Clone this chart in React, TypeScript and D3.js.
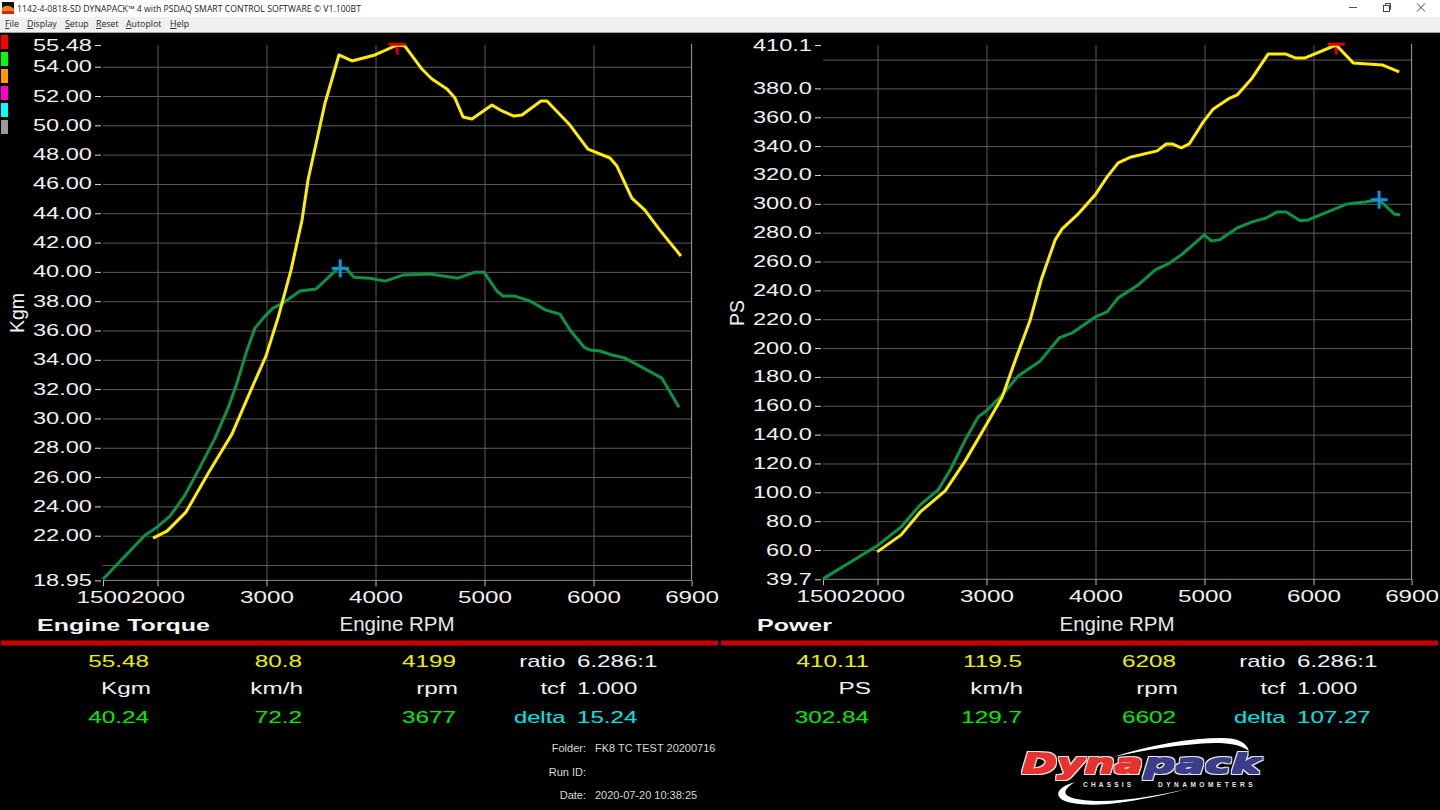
import React, { useEffect, useRef } from 'react';
import * as d3 from 'd3';

const FONT = '"Liberation Sans", Arial, sans-serif';
const UI_FONT = '"Open Sans", "Noto Sans", sans-serif';

// Engine torque (Kgm)
const torqueYellowRpm = [1959, 2087, 2261, 2472, 2683, 2849, 2995, 3105, 3225, 3326, 3381, 3537, 3665, 3784, 3995, 4199, 4270, 4426, 4518, 4656, 4729, 4803, 4885, 5068, 5160, 5270, 5344, 5518, 5573, 5784, 5949, 6151, 6215, 6352, 6471, 6609, 6683, 6802];
const torqueYellow = [21.83, 22.31, 23.61, 26.34, 28.93, 31.8, 34.25, 36.85, 40.12, 43.54, 46.27, 51.52, 54.8, 54.39, 54.8, 55.48, 55.41, 53.84, 53.16, 52.48, 51.86, 50.57, 50.43, 51.39, 50.98, 50.63, 50.7, 51.66, 51.66, 50.02, 48.38, 47.77, 47.22, 45.03, 44.22, 42.85, 42.17, 41.08];
const torqueGreenRpm = [1500, 1885, 1995, 2115, 2252, 2390, 2528, 2647, 2729, 2821, 2894, 2986, 3060, 3151, 3307, 3454, 3656, 3729, 3803, 3949, 4087, 4252, 4500, 4757, 4912, 4995, 5114, 5169, 5279, 5417, 5564, 5692, 5784, 5912, 5967, 6059, 6169, 6288, 6426, 6628, 6784];
const torqueGreen = [19.03, 22.03, 22.58, 23.33, 24.77, 26.68, 28.66, 30.7, 32.41, 34.66, 36.16, 36.98, 37.53, 37.87, 38.69, 38.83, 40.24, 40.24, 39.64, 39.57, 39.37, 39.78, 39.85, 39.57, 39.98, 39.98, 38.69, 38.35, 38.35, 38.01, 37.39, 37.12, 36.03, 34.87, 34.67, 34.6, 34.33, 34.12, 33.57, 32.75, 30.77];

// Power (PS)
const powerYellowRpm = [1997, 2217, 2392, 2621, 2805, 2997, 3144, 3272, 3401, 3502, 3630, 3694, 3832, 3997, 4107, 4208, 4327, 4566, 4649, 4704, 4787, 4860, 4989, 5081, 5218, 5300, 5438, 5585, 5741, 5832, 5924, 6208, 6364, 6630, 6786];
const powerYellow = [58.7, 70.5, 86.4, 101, 121.8, 146.7, 166.1, 193.2, 219.5, 247.3, 275, 282.6, 292.3, 306.2, 318.7, 328.4, 332.5, 336.7, 341.5, 341.5, 338.8, 341.5, 356.8, 365.8, 372.7, 375.5, 387.3, 403.9, 403.9, 401.1, 401.1, 410.1, 397.7, 396.3, 391.4];
const powerGreenRpm = [1500, 1997, 2217, 2392, 2557, 2667, 2805, 2924, 2997, 3144, 3291, 3493, 3667, 3786, 3997, 4107, 4208, 4392, 4548, 4667, 4787, 4915, 4998, 5062, 5135, 5300, 5438, 5566, 5667, 5750, 5878, 5951, 6153, 6309, 6474, 6602, 6740, 6795];
const powerGreen = [40, 62.9, 76, 91.3, 101.7, 115.5, 136.3, 152.3, 156.4, 167.5, 180.7, 191.1, 207, 210.5, 221.6, 225.1, 234.8, 243.8, 254.2, 258.3, 264.6, 272.9, 278.4, 274.3, 275, 283.3, 287.5, 290.2, 294.4, 294.4, 288.2, 288.8, 295.1, 299.9, 301.3, 302.84, 293, 292.3];

const rpmTicks = [1500, 2000, 3000, 4000, 5000, 6000, 6900];
const rpmGrid = [2000, 3000, 4000, 5000, 6000];
const torqueTicks = [18.95, 22, 24, 26, 28, 30, 32, 34, 36, 38, 40, 42, 44, 46, 48, 50, 52, 54, 55.48];
const torqueGrid = [20, 22, 24, 26, 28, 30, 32, 34, 36, 38, 40, 42, 44, 46, 48, 50, 52, 54];
const powerTicks = [39.7, 60, 80, 100, 120, 140, 160, 180, 200, 220, 240, 260, 280, 300, 320, 340, 360, 380, 410.1];
const powerGrid = [60, 80, 100, 120, 140, 160, 180, 200, 220, 240, 260, 280, 300, 320, 340, 360, 380, 400];

const swatches = ['#ff0000', '#00ff00', '#ff9900', '#ff00cc', '#00ffff', '#999999'];
const menuItems = ['File', 'Display', 'Setup', 'Reset', 'Autoplot', 'Help'];
const menuX = [5, 27, 65, 96, 126, 170];

const torqueReadout = [['55.48', '80.8', '4199'], ['Kgm', 'km/h', 'rpm'], ['40.24', '72.2', '3677']];
const powerReadout = [['410.11', '119.5', '6208'], ['PS', 'km/h', 'rpm'], ['302.84', '129.7', '6602']];
const torqueSide = ['6.286:1', '1.000', '15.24'];
const powerSide = ['6.286:1', '1.000', '107.27'];

type PanelProps = {
  left: number;
  yLow: number;
  yHigh: number;
  yBottom: number;
  yTicks: number[];
  yGrid: number[];
  decimals: number;
  unit: string;
  unitX: number;
  unitY: number;
  yRpm: number[];
  yVals: number[];
  gRpm: number[];
  gVals: number[];
  peak: [number, number];
  peak2: [number, number];
};

const Panel = ({ left, yLow, yHigh, yBottom, yTicks, yGrid, decimals, unit, unitX, unitY, yRpm, yVals, gRpm, gVals, peak, peak2 }: PanelProps) => {
  const ref = useRef<SVGGElement>(null);

  useEffect(() => {
    const g = d3.select(ref.current);
    g.selectAll('*').remove();

    const x = d3.scaleLinear().domain([1500, 6900]).range([left, left + 588.6]);
    const y = d3.scaleLinear().domain([yLow, yHigh]).range([yBottom, 45]);
    const bottom = y(yLow);

    // grid
    g.append('g')
      .attr('transform', `translate(${left},0)`)
      .call(d3.axisLeft(y).tickValues(yGrid).tickSize(-588.6).tickFormat(() => ''))
      .call((a) => a.select('.domain').remove())
      .call((a) => a.selectAll('.tick line').attr('stroke', '#5c5c5c'));

    g.append('g')
      .attr('transform', `translate(0,${bottom})`)
      .call(d3.axisTop(x).tickValues(rpmGrid).tickSize(bottom - 45).tickFormat(() => ''))
      .call((a) => a.select('.domain').remove())
      .call((a) => a.selectAll('.tick line').attr('stroke', '#5c5c5c'));

    // plot frame, bottom and right edge are brighter
    g.append('line').attr('x1', left).attr('x2', x(6900)).attr('y1', bottom).attr('y2', bottom).attr('stroke', '#8a8a8a');
    g.append('line').attr('x1', x(6900)).attr('x2', x(6900)).attr('y1', 44).attr('y2', bottom).attr('stroke', '#a0a0a0');

    // y axis
    g.append('g')
      .attr('transform', `translate(${left - 2},0)`)
      .call(d3.axisLeft(y).tickValues(yTicks).tickSize(6).tickFormat((d) => (d as number).toFixed(decimals)))
      .call((a) => a.select('.domain').remove())
      .call((a) => a.selectAll('.tick line').attr('stroke', '#dddddd'))
      .call((a) =>
        a
          .selectAll('.tick text')
          .attr('x', 0)
          .attr('dy', 0)
          .attr('transform', 'translate(-9,5) scale(1.43,1)')
          .attr('fill', '#f0f0f0')
          .attr('font-family', FONT)
          .attr('font-size', 16.5)
      );

    // x axis
    g.append('g')
      .attr('transform', `translate(0,${bottom})`)
      .call(d3.axisBottom(x).tickValues(rpmTicks).tickSize(6).tickFormat(d3.format('d')))
      .call((a) => a.select('.domain').remove())
      .call((a) => a.selectAll('.tick line').attr('stroke', '#bbbbbb'))
      .call((a) =>
        a
          .selectAll('.tick text')
          .attr('y', 0)
          .attr('dy', 0)
          .attr('transform', 'translate(0,23) scale(1.47,1)')
          .attr('fill', '#f0f0f0')
          .attr('font-family', FONT)
          .attr('font-size', 16.5)
      );

    const draw = (rpm: number[], vals: number[], color: string) => {
      const path = d3
        .line<number>()
        .x((r) => x(r))
        .y((_, i) => y(vals[i]));
      g.append('path')
        .attr('d', path(rpm))
        .attr('fill', 'none')
        .attr('stroke', color)
        .attr('stroke-width', 3)
        .attr('stroke-linejoin', 'round');
    };

    // red peak marker, cut off at the plot top: stem under the trace, bar over it
    const px = x(peak[0]);
    const py = y(peak[1]);
    g.append('line').attr('x1', px).attr('x2', px).attr('y1', py).attr('y2', py + 9.5).attr('stroke', '#e00000').attr('stroke-width', 3);

    draw(gRpm, gVals, '#0a9444');
    draw(yRpm, yVals, '#ffee00');

    g.append('line').attr('x1', px - 8.5).attr('x2', px + 8.5).attr('y1', py - 0.8).attr('y2', py - 0.8).attr('stroke', '#e00000').attr('stroke-width', 3);

    // blue marker
    const bx = x(peak2[0]);
    const by = y(peak2[1]);
    g.append('line').attr('x1', bx - 8.5).attr('x2', bx + 8.5).attr('y1', by).attr('y2', by).attr('stroke', '#0a96dc').attr('stroke-width', 3);
    g.append('line').attr('x1', bx).attr('x2', bx).attr('y1', by - 9).attr('y2', by + 9).attr('stroke', '#0a96dc').attr('stroke-width', 3);

    // axis unit
    g.append('text')
      .attr('transform', `translate(${unitX},${unitY}) rotate(-90)`)
      .attr('text-anchor', 'middle')
      .attr('fill', '#f0f0f0')
      .attr('font-family', FONT)
      .attr('font-size', 19.5)
      .text(unit);
  }, [left, yLow, yHigh, yBottom, yTicks, yGrid, decimals, unit, unitX, unitY, yRpm, yVals, gRpm, gVals, peak, peak2]);

  return <g ref={ref} />;
};

const Wide = ({ x, y, sx = 1.43, size = 17, fill, anchor = 'start', weight = 'normal', font = FONT, children }: any) => (
  <text
    transform={`translate(${x},${y}) scale(${sx},1)`}
    textAnchor={anchor}
    fill={fill}
    fontFamily={font}
    fontSize={size}
    fontWeight={weight}
  >
    {children}
  </text>
);

const Readout = ({ dx, title, rows, side }: { dx: number; title: string; rows: string[][]; side: string[] }) => {
  const colRight = [[149, 302, 456], [151, 303, 458], [149, 302, 456]];
  const rowY = [666.5, 694, 723];
  const rowFill = ['#eeee00', '#f0f0f0', '#00ee00'];
  const labels = ['ratio', 'tcf', 'delta'];
  return (
    <g transform={`translate(${dx},0)`}>
      <rect x={1} y={640.5} width={717} height={5} fill="#cc0000" />
      <Wide x={37} y={631} sx={1.47} size={17} weight="bold" fill="#f4f4f4">{title}</Wide>
      <Wide x={397} y={631} sx={1} size={20.5} fill="#e8e8e8" anchor="middle">Engine RPM</Wide>
      {rows.map((r, i) =>
        r.map((t, j) => (
          <Wide key={`${i}-${j}`} x={colRight[i][j]} y={rowY[i]} fill={rowFill[i]} anchor="end">{t}</Wide>
        ))
      )}
      {labels.map((t, i) => (
        <Wide key={t} x={565.5} y={rowY[i]} sx={1.4} fill={i === 2 ? '#00e8e8' : '#f0f0f0'} anchor="end">{t}</Wide>
      ))}
      {side.map((t, i) => (
        <Wide key={i} x={577} y={rowY[i]} sx={1.42} fill={i === 2 ? '#00e8e8' : '#f0f0f0'}>{t}</Wide>
      ))}
    </g>
  );
};

const Logo = () => (
  <g>
    <defs>
      <filter id="logoHeavy" x="-10%" y="-20%" width="120%" height="140%">
        <feMorphology in="SourceGraphic" operator="dilate" radius="0.7" result="fat" />
        <feMorphology in="SourceAlpha" operator="dilate" radius="1.5" result="edge" />
        <feFlood floodColor="#e4e4e4" />
        <feComposite in2="edge" operator="in" result="outline" />
        <feMerge>
          <feMergeNode in="outline" />
          <feMergeNode in="fat" />
        </feMerge>
      </filter>
    </defs>
    <path d="M1113 757 C1150 745 1190 738 1222 738 C1238 738 1246 742 1249 751 C1241 745 1230 743 1215 743 C1180 744 1145 750 1113 757 Z" fill="#ffffff" />
    <path d="M1075 782 C1060 786 1055 793 1060 798 C1068 806 1100 806 1125 802 C1150 798 1172 793 1192 788 C1165 794 1130 801 1100 801 C1078 801 1062 797 1066 790 C1068 787 1071 784 1075 782 Z" fill="#ffffff" />
    <g filter="url(#logoHeavy)">
      <text transform="translate(1022,773) scale(1.62,1)" fontFamily='"DejaVu Sans"' fontWeight="bold" fontStyle="italic" fontSize={26} fill="#e8332e">Dyna</text>
      <text transform="translate(1144,773) scale(1.69,1)" fontFamily='"DejaVu Sans"' fontWeight="bold" fontStyle="italic" fontSize={26} fill="#3a3d8c">pack</text>
    </g>
    <text x={1083} y={787} fontFamily={FONT} fontWeight="bold" fontSize={6.5} letterSpacing={3.2} fill="#e8e8e8">CHASSIS</text>
    <text x={1158} y={787} fontFamily={FONT} fontWeight="bold" fontSize={6.5} letterSpacing={3.5} fill="#e8e8e8">DYNAMOMETERS</text>
  </g>
);

export default function App() {
  return (
    <svg width={1440} height={810} style={{ position: 'absolute', left: 0, top: 0, display: 'block', background: '#000' }}>
      <rect width={1440} height={810} fill="#000" />

      {/* window chrome */}
      <rect width={1440} height={17} fill="#ffffff" />
      <rect y={17} width={1440} height={15} fill="#f0f0f0" />
      <rect y={32} width={1440} height={1} fill="#a0a0a0" />
      <rect x={2} y={2} width={12} height={12} fill="#111" />
      <path d="M2 14 L2 8 C5 5 10 5 14 9 L14 14 Z" fill="#f08010" />
      <path d="M2 14 L2 11 L14 11 L14 14 Z" fill="#e02010" />
      <text x={17} y={12} fontFamily={UI_FONT} fontSize={8.68} fill="#222">1142-4-0818-SD DYNAPACK™ 4 with PSDAQ SMART CONTROL SOFTWARE © V1.100BT</text>
      {menuItems.map((m, i) => (
        <text key={m} x={menuX[i]} y={27} fontFamily={UI_FONT} fontSize={8.8} fill="#222">
          <tspan textDecoration="underline">{m[0]}</tspan>
          {m.slice(1)}
        </text>
      ))}
      <line x1={1349} x2={1357} y1={7.5} y2={7.5} stroke="#555" />
      <rect x={1383.5} y={5.5} width={6} height={6} fill="#fff" stroke="#444" />
      <path d="M1385.5 5.5 V3.5 H1390.5 V9.5 H1389.5" fill="none" stroke="#444" />
      <path d="M1417 3.5 L1425 11.5 M1425 3.5 L1417 11.5" stroke="#444" />

      {swatches.map((c, i) => (
        <rect key={c} x={1} y={35 + i * 17} width={7} height={14} fill={c} />
      ))}

      <Panel
        left={103}
        yLow={18.95}
        yHigh={55.48}
        yBottom={580.4}
        yTicks={torqueTicks}
        yGrid={torqueGrid}
        decimals={2}
        unit="Kgm"
        unitX={24}
        unitY={313}
        yRpm={torqueYellowRpm}
        yVals={torqueYellow}
        gRpm={torqueGreenRpm}
        gVals={torqueGreen}
        peak={[4199, 55.48]}
        peak2={[3677, 40.24]}
      />
      <Panel
        left={823}
        yLow={39.7}
        yHigh={410.1}
        yBottom={579.3}
        yTicks={powerTicks}
        yGrid={powerGrid}
        decimals={1}
        unit="PS"
        unitX={744}
        unitY={313}
        yRpm={powerYellowRpm}
        yVals={powerYellow}
        gRpm={powerGreenRpm}
        gVals={powerGreen}
        peak={[6208, 410.1]}
        peak2={[6602, 302.84]}
      />

      <Readout dx={0} title="Engine Torque" rows={torqueReadout} side={torqueSide} />
      <Readout dx={720} title="Power" rows={powerReadout} side={powerSide} />

      <g fontFamily={FONT} fontSize={11} fill="#d8d8d8">
        <text x={586} y={752} textAnchor="end">Folder:</text>
        <text x={595} y={752}>FK8 TC TEST 20200716</text>
        <text x={586} y={775.5} textAnchor="end">Run ID:</text>
        <text x={586} y={799} textAnchor="end">Date:</text>
        <text x={595} y={799}>2020-07-20 10:38:25</text>
      </g>

      <Logo />
    </svg>
  );
}
